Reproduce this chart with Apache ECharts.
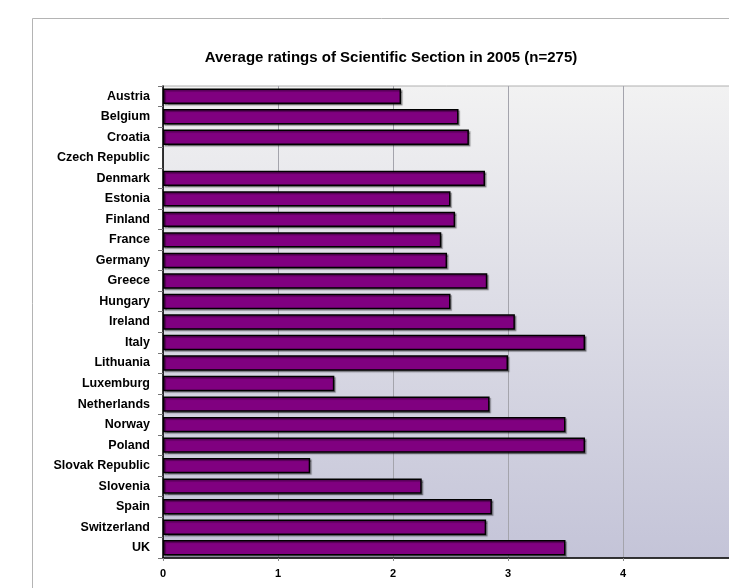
<!DOCTYPE html>
<html>
<head>
<meta charset="utf-8">
<script src="https://cdn.jsdelivr.net/npm/echarts@6/dist/echarts.min.js"></script>
<style>
  html, body { margin: 0; padding: 0; background: #fff; }
  #chart { width: 729px; height: 588px; }
</style>
</head>
<body>
<div id="chart"></div>
<script>
// countries, top to bottom
var countries = ['Austria', 'Belgium', 'Croatia', 'Czech Republic', 'Denmark', 'Estonia',
  'Finland', 'France', 'Germany', 'Greece', 'Hungary', 'Ireland', 'Italy', 'Lithuania',
  'Luxemburg', 'Netherlands', 'Norway', 'Poland', 'Slovak Republic', 'Slovenia', 'Spain',
  'Switzerland', 'UK'];

// average rating per country (Czech Republic has no bar)
var ratings = [2.07, 2.57, 2.66, null, 2.80, 2.50,
  2.54, 2.42, 2.47, 2.82, 2.50, 3.06, 3.67, 3.00,
  1.49, 2.84, 3.50, 3.67, 1.28, 2.25, 2.86,
  2.81, 3.50];

var titleText = 'Average ratings of Scientific Section in 2005 (n=275)';

var chart = echarts.init(document.getElementById('chart'));
var fontName = '"Liberation Sans", Arial, sans-serif';

chart.setOption({
  backgroundColor: '#fff',
  animation: false,
  graphic: [
    {
      type: 'rect',
      z: -10,
      shape: { x: 32.5, y: 18.5, width: 800, height: 700 },
      style: { fill: '#fff', stroke: '#b4b4b4', lineWidth: 1 }
    },
    {
      type: 'text',
      style: {
        text: titleText,
        x: 391, y: 58,
        textAlign: 'center',
        textVerticalAlign: 'middle',
        font: 'bold 15px ' + fontName,
        fill: '#000'
      }
    }
  ],
  grid: {
    left: 163,
    top: 86,
    width: 575,
    bottom: 30,
    outerBoundsMode: 'none',
    containLabel: false,
    show: true,
    borderColor: '#b0b0b0',
    borderWidth: 1,
    backgroundColor: new echarts.graphic.LinearGradient(0, 0, 0, 1, [
      { offset: 0, color: '#f2f2f2' },
      { offset: 1, color: '#c4c4d8' }
    ])
  },
  xAxis: {
    type: 'value',
    min: 0,
    max: 5,
    interval: 1,
    axisLine: { show: true, lineStyle: { color: '#000', width: 1.5 } },
    axisTick: { show: true, length: 3, lineStyle: { color: '#888' } },
    splitLine: { show: true, lineStyle: { color: '#a4a4ac', width: 1 } },
    axisLabel: {
      color: '#000',
      fontWeight: 'bold',
      fontSize: 11,
      fontFamily: fontName,
      margin: 10
    }
  },
  yAxis: {
    type: 'category',
    data: countries,
    inverse: true,
    axisLine: { show: true, lineStyle: { color: '#000', width: 1.5 } },
    axisTick: { show: true, length: 5, alignWithLabel: false, lineStyle: { color: '#777' } },
    axisLabel: {
      color: '#000',
      fontWeight: 'bold',
      fontSize: 12.5,
      fontFamily: fontName,
      margin: 13
    }
  },
  series: [{
    type: 'bar',
    data: ratings,
    barCategoryGap: '25%',
    itemStyle: {
      color: '#800080',
      borderColor: '#000',
      borderWidth: 1.5,
      shadowColor: 'rgba(0,0,0,0.35)',
      shadowOffsetX: 1.5,
      shadowOffsetY: 1.5,
      shadowBlur: 1
    }
  }]
});

window.addEventListener('resize', chart.resize);
</script>
</body>
</html>
